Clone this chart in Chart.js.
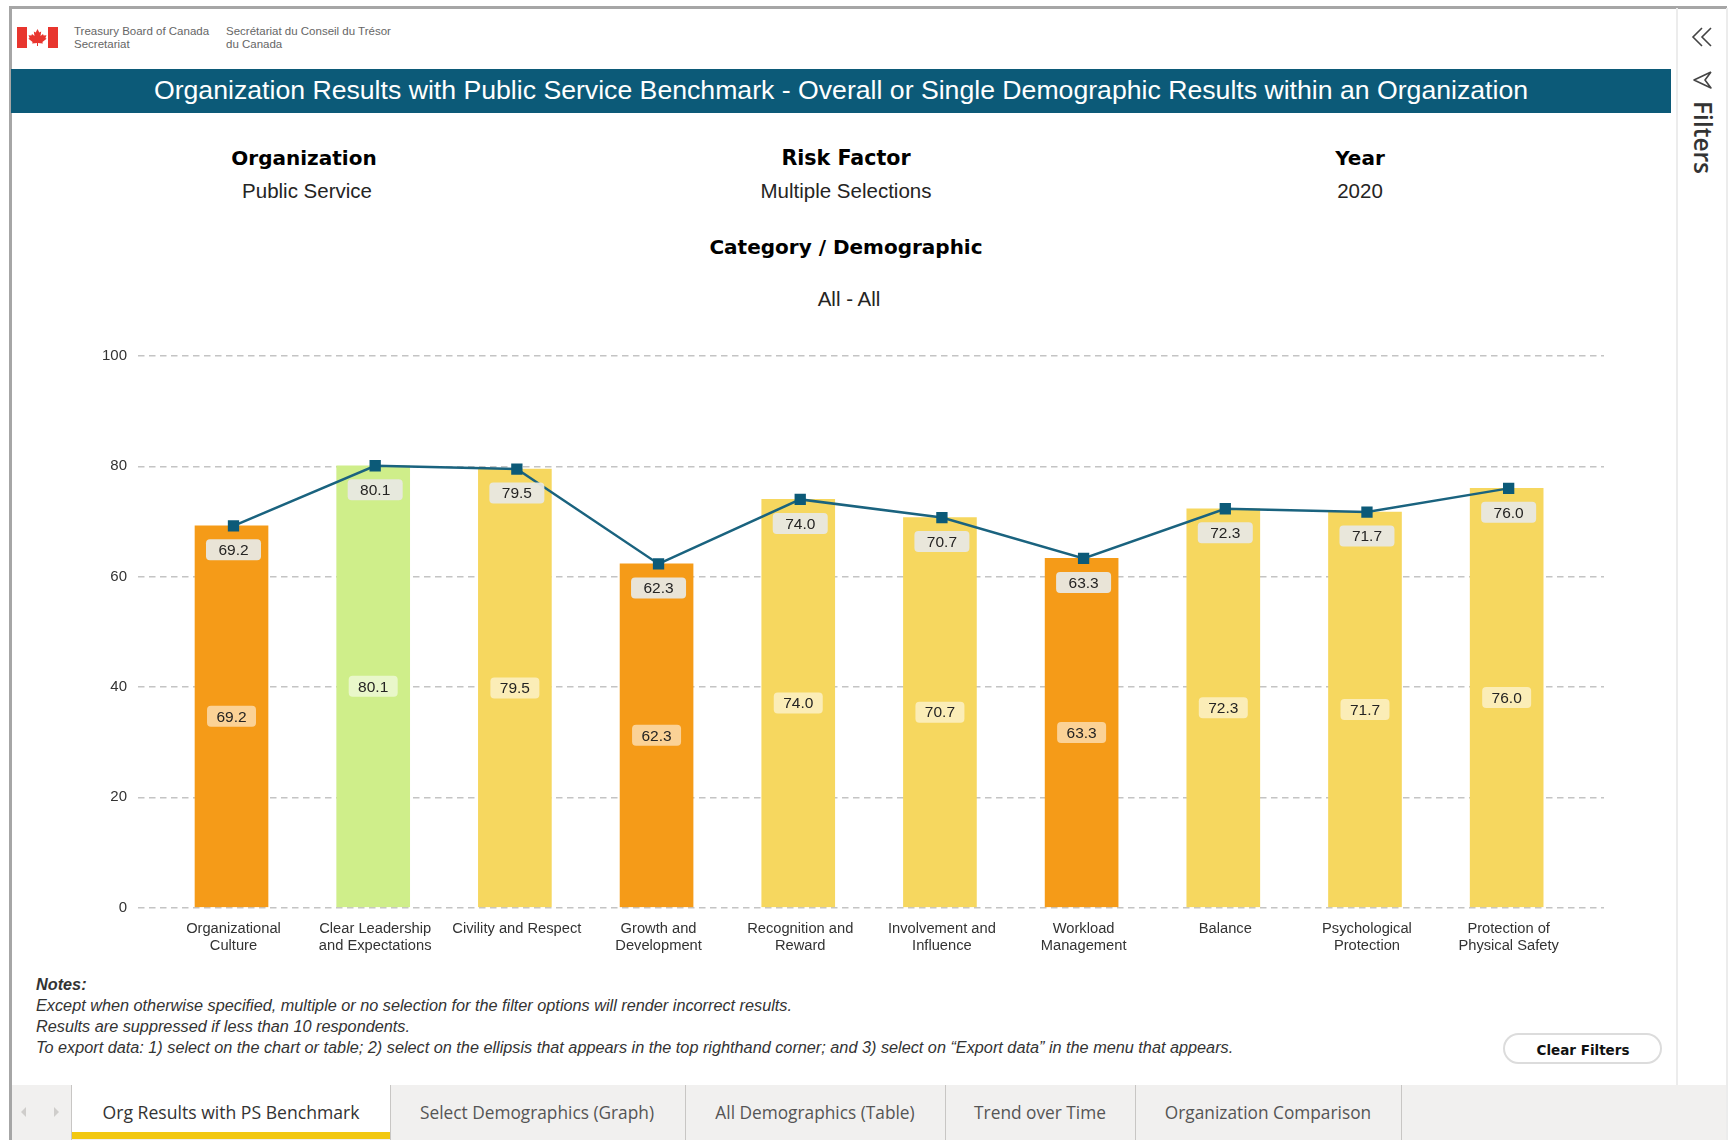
<!DOCTYPE html>
<html lang="en">
<head>
<meta charset="UTF-8">
<title>Organization Results with Public Service Benchmark</title>
<script src="https://cdn.jsdelivr.net/npm/chart.js"></script>
<style>
html, body { margin: 0; padding: 0; background: #fff; width: 1733px; height: 1147px; overflow: hidden; }
body { position: relative; font-family: "Liberation Sans", Arial, sans-serif; color: #222; }
.abs { position: absolute; white-space: nowrap; }
.ctr { transform: translate(-50%, -50%); }
.head { font-family: "DejaVu Sans", sans-serif; font-weight: bold; font-size: 20px; color: #000; }
.val { font-size: 20.5px; color: #252423; }
.note { left: 36px; font-size: 16.25px; font-style: italic; color: #333; transform: translateY(-50%); }
.logo { font-size: 11.5px; line-height: 13px; color: #666; }
.sep { position: absolute; top: 1085px; height: 55px; width: 1px; background: #c8c6c4; }
.tab { font-family: "Open Sans", sans-serif; font-size: 17.3px; color: #555; }
canvas { position: absolute; left: 80px; top: 336px; }
</style>
</head>
<body>

<!-- page frame -->
<div class="abs" style="left:9px;top:6px;width:1718px;height:3px;background:#a6a6a6"></div>
<div class="abs" style="left:9px;top:6px;width:3px;height:1134px;background:#a6a6a6"></div>
<div class="abs" style="left:1726px;top:8px;width:2px;height:1132px;background:#ececec"></div>
<div class="abs" style="left:1676px;top:8px;width:2px;height:1077px;background:#ececec"></div>

<!-- logo -->
<div class="abs" style="left:17px;top:27px;width:41px;height:21px;background:#fff">
  <div class="abs" style="left:0;top:0;width:10px;height:21px;background:#e8352e"></div>
  <div class="abs" style="right:0;top:0;width:10px;height:21px;background:#e8352e"></div>
  <svg class="abs" style="left:11px;top:2px" width="19" height="17" viewBox="0 0 19 17">
    <polygon fill="#e8352e" points="9.5,0 11.3,3.4 13.2,2.6 12.5,7 15,5 15.6,6.6 18.5,6.2 17.4,9 18.6,9.8 14.4,13 14.9,14.4 10,13.9 10,17 9,17 9,13.9 4.1,14.4 4.6,13 0.4,9.8 1.6,9 0.5,6.2 3.4,6.6 4,5 6.5,7 5.8,2.6 7.7,3.4"/>
  </svg>
</div>
<div class="abs logo" style="left:74px;top:25px">Treasury Board of Canada<br>Secretariat</div>
<div class="abs logo" style="left:226px;top:25px">Secrétariat du Conseil du Trésor<br>du Canada</div>

<!-- title banner -->
<div class="abs" style="left:11px;top:69px;width:1660px;height:44px;background:#0c5a78"></div>
<div class="abs ctr" style="left:841px;top:90px;font-size:26.65px;color:#fff" id="title">Organization Results with Public Service Benchmark - Overall or Single Demographic Results within an Organization</div>

<!-- slicer headers -->
<div class="abs ctr head" style="left:304px;top:158px">Organization</div>
<div class="abs ctr val" style="left:307px;top:191px">Public Service</div>
<div class="abs ctr head" style="left:846px;top:158px;font-size:20.6px">Risk Factor</div>
<div class="abs ctr val" style="left:846px;top:191px">Multiple Selections</div>
<div class="abs ctr head" style="left:1360px;top:158px">Year</div>
<div class="abs ctr val" style="left:1360px;top:191px">2020</div>
<div class="abs ctr head" style="left:846px;top:247px">Category / Demographic</div>
<div class="abs ctr val" style="left:849px;top:299px">All - All</div>

<canvas id="myChart" width="1540" height="624"></canvas>

<!-- notes -->
<div class="abs note" style="top:984px;font-weight:bold">Notes:</div>
<div class="abs note" style="top:1005px">Except when otherwise specified, multiple or no selection for the filter options will render incorrect results.</div>
<div class="abs note" style="top:1026px">Results are suppressed if less than 10 respondents.</div>
<div class="abs note" style="top:1047px">To export data: 1) select on the chart or table; 2) select on the ellipsis that appears in the top righthand corner; and 3) select on “Export data” in the menu that appears.</div>

<!-- clear filters button -->
<div class="abs" style="left:1503px;top:1033px;width:155px;height:27px;border:2.5px solid #dcdcdc;border-radius:16px"></div>
<div class="abs ctr" style="left:1583px;top:1050px;font-family:'DejaVu Sans',sans-serif;font-weight:bold;font-size:13.5px;color:#111">Clear Filters</div>

<!-- filter pane -->
<svg class="abs" style="left:1688px;top:25px" width="30" height="70" viewBox="0 0 30 70" fill="none" stroke="#444" stroke-width="1.6">
  <polyline points="14,3 5,12 14,21"/>
  <polyline points="23,3 14,12 23,21"/>
  <polyline points="23,47 6,55 23,63 17,55 23,47" stroke-linejoin="round"/>
</svg>
<div class="abs" style="left:1703px;top:101px;transform-origin:0 0;transform:rotate(90deg) translateY(-50%);font-family:'Open Sans',sans-serif;font-weight:600;font-size:24.5px;line-height:26px;color:#333">Filters</div>

<!-- tab bar -->
<div class="abs" style="left:12px;top:1085px;width:1714px;height:55px;background:#f1f0ef"></div>
<div class="abs" style="left:71px;top:1085px;width:319px;height:47px;background:#fff"></div>
<div class="abs" style="left:71px;top:1132px;width:319px;height:7px;background:#f2c811"></div>
<div class="sep" style="left:71px"></div>
<div class="sep" style="left:390px"></div>
<div class="sep" style="left:685px"></div>
<div class="sep" style="left:945px"></div>
<div class="sep" style="left:1135px"></div>
<div class="sep" style="left:1401px"></div>
<svg class="abs" style="left:18px;top:1104px" width="46" height="16" viewBox="0 0 46 16" fill="#cfcdcb">
  <polygon points="8,3 3,8 8,13"/>
  <polygon points="36,3 41,8 36,13"/>
</svg>
<div class="abs ctr tab" style="left:231px;top:1112px;color:#333;font-size:17.6px">Org Results with PS Benchmark</div>
<div class="abs ctr tab" style="left:537px;top:1112px">Select Demographics (Graph)</div>
<div class="abs ctr tab" style="left:815px;top:1112px">All Demographics (Table)</div>
<div class="abs ctr tab" style="left:1040px;top:1112px">Trend over Time</div>
<div class="abs ctr tab" style="left:1268px;top:1112px">Organization Comparison</div>

<script>
// chart data
const categories = [
    ['Organizational', 'Culture'],
    ['Clear Leadership', 'and Expectations'],
    ['Civility and Respect'],
    ['Growth and', 'Development'],
    ['Recognition and', 'Reward'],
    ['Involvement and', 'Influence'],
    ['Workload', 'Management'],
    ['Balance'],
    ['Psychological', 'Protection'],
    ['Protection of', 'Physical Safety']
];
const orgResults = [69.2, 80.1, 79.5, 62.3, 74.0, 70.7, 63.3, 72.3, 71.7, 76.0];
const psBenchmark = [69.2, 80.1, 79.5, 62.3, 74.0, 70.7, 63.3, 72.3, 71.7, 76.0];
const yTicks = [0, 20, 40, 60, 80, 100];

// colour band of a result
function barColor(v) {
    if (v >= 80) return '#cfee8a';
    if (v >= 70) return '#f6d75f';
    return '#f59b18';
}

function toPoints(values) {
    return values.map((v, i) => ({ x: i, y: v }));
}

function roundedLabel(ctx, text, cx, cy, w, h, fill) {
    ctx.fillStyle = fill;
    ctx.beginPath();
    ctx.roundRect(cx - w / 2, cy - h / 2, w, h, 4);
    ctx.fill();
    ctx.fillStyle = '#252423';
    ctx.fillText(text, cx, cy + 1);
}

// value labels: one in the middle of each bar, one under each line marker
const valueLabels = {
    id: 'valueLabels',
    afterDatasetsDraw(chart) {
        const ctx = chart.ctx;
        ctx.save();
        ctx.font = '15.5px "Liberation Sans"';
        ctx.textAlign = 'center';
        ctx.textBaseline = 'middle';
        chart.getDatasetMeta(0).data.forEach((bar, i) => {
            const mid = (bar.y + bar.base) / 2;
            roundedLabel(ctx, orgResults[i].toFixed(1), bar.x, mid, 49, 21, 'rgba(255,255,255,0.55)');
        });
        chart.getDatasetMeta(1).data.forEach((pt, i) => {
            roundedLabel(ctx, psBenchmark[i].toFixed(1), pt.x, pt.y + 24, 55, 21, 'rgba(232,232,226,0.95)');
        });
        ctx.restore();
    }
};

new Chart(document.getElementById('myChart').getContext('2d'), {
    data: {
        datasets: [{
            type: 'bar',
            label: 'Organization',
            data: toPoints(orgResults),
            xAxisID: 'xBars',
            backgroundColor: orgResults.map(barColor),
            barThickness: 73,
            grouped: false,
            order: 2
        }, {
            type: 'line',
            label: 'Public Service',
            data: toPoints(psBenchmark),
            borderColor: '#1a637f',
            borderWidth: 2.5,
            pointStyle: 'rect',
            pointRadius: 8,
            pointBackgroundColor: '#0c5a78',
            pointBorderWidth: 0,
            tension: 0,
            order: 1
        }]
    },
    options: {
        responsive: false,
        animation: false,
        layout: { padding: { right: 16 } },
        plugins: { legend: { display: false }, tooltip: { enabled: false } },
        scales: {
            x: {
                type: 'linear',
                offset: false,
                min: -0.674,
                max: 9.673,
                afterBuildTicks: s => { s.ticks = categories.map((c, i) => ({ value: i })); },
                afterFit: s => { s.height = 52.5; },
                grid: { display: false },
                border: { display: false },
                ticks: {
                    autoSkip: false,
                    maxRotation: 0,
                    padding: 5,
                    color: '#333',
                    font: { family: '"Liberation Sans"', size: 14.7, lineHeight: 1.14 },
                    callback: v => categories[v]
                }
            },
            xBars: {
                type: 'linear',
                display: false,
                offset: false,
                min: -0.660,
                max: 9.687
            },
            y: {
                min: 0,
                max: 100,
                afterBuildTicks: s => { s.ticks = yTicks.map(v => ({ value: v })); },
                afterFit: s => { s.width = 58; },
                border: { display: false, dash: [6.5, 4.5] },
                grid: { color: '#c4c4c4', lineWidth: 1.4, drawTicks: false },
                ticks: {
                    padding: 11,
                    color: '#333',
                    font: { family: '"Liberation Sans"', size: 15 }
                }
            }
        }
    },
    plugins: [valueLabels]
});
</script>
</body>
</html>
